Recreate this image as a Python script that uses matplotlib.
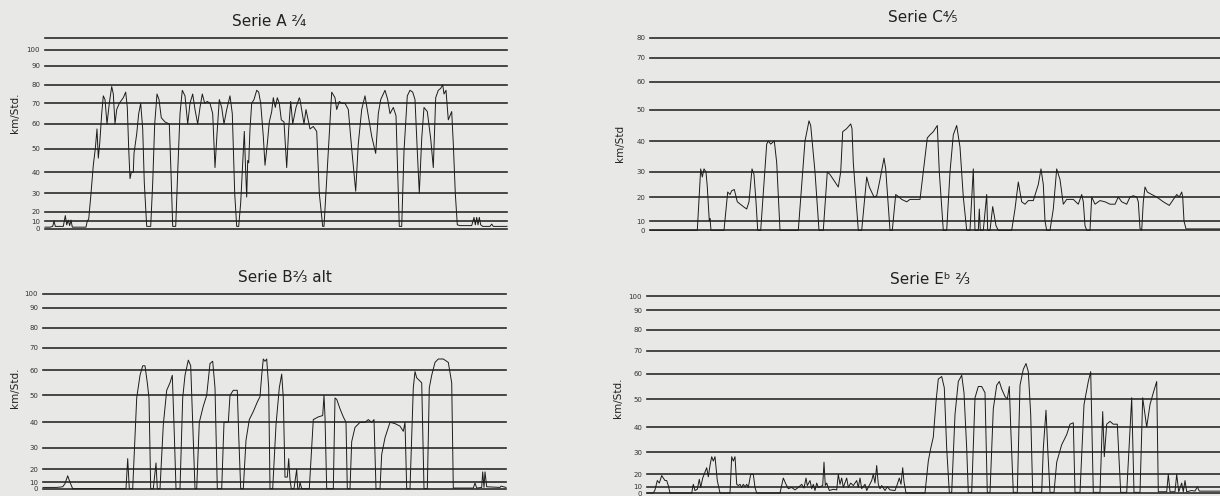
"""Geschwindigkeitsdiagramme (km/Std.) fuer vier Triebwagen-Serien."""
import matplotlib

matplotlib.use("Agg")
import matplotlib.pyplot as plt
import numpy as np

plt.rcParams["font.family"] = ["DejaVu Sans", "Noto Sans"]

# ---- Daten (Strecke in willkuerlichen Einheiten, Geschwindigkeit in km/h) ----
a_x = [0, 5, 7.7, 9, 10.3, 18.3, 20.3, 21.7, 23.3, 24.7, 26, 27.3, 41, 42.3, 43.7,
       45.7, 48.3, 50.3, 52, 53.3, 54.7, 56.7, 58.3, 60, 62, 64.3, 66.7, 68.3, 70,
       71.7, 74.3, 78.3, 80.7, 82.3, 83.7, 85, 86.3, 88.3, 89, 91.7, 93.7, 95.7,
       97.7, 99.3, 101.7, 105.7, 107.7, 109.7, 112, 114, 116.3, 120, 124.3, 126,
       127.7, 130.7, 132.7, 135, 137.3, 140, 142.7, 145, 147.7, 150, 152.7, 155,
       157.3, 159.7, 162.3, 165, 167.7, 170, 172, 174.3, 176.7, 179, 181.7, 185,
       187.3, 189.7, 191.7, 193.7, 195.7, 199.3, 200.7, 201.7, 202.7, 203.7, 205,
       206.7, 209, 211.7, 213.7, 215.7, 218.3, 220, 222.3, 224.3, 226.7, 228.3,
       230.3, 232.3, 234.3, 236.3, 239, 241.7, 243.7, 245.7, 247.7, 251, 254.3,
       255, 259, 261, 265, 268.3, 271.7, 274.3, 277.7, 279, 286.7, 290, 291.7,
       294.3, 296.7, 300, 303.3, 306.7, 310.7, 313.3, 316.7, 320, 323.3, 326.7,
       330.7, 333.3, 335.7, 340, 342.7, 345, 348.3, 351, 352.3, 354.3, 356.7, 359,
       362.3, 365, 367.7, 370, 372.3, 374.3, 376.7, 379, 382.3, 385.7, 388.3,
       390.7, 393.3, 395.7, 397.7, 399, 401, 403.3, 405, 406.7, 408.3, 410.3,
       412.3, 415, 426.7, 429, 430.3, 431.7, 433, 434.3, 435.7, 437.7, 445, 446.7,
       448.3, 462]
a_v = [2, 2, 3, 10, 3, 3, 16, 5, 11, 4, 11, 2, 2, 10, 12,
       28, 43, 50, 58, 46, 52, 65, 74, 72, 60, 70, 79, 75, 60,
       67, 70, 73, 76, 68, 50, 37, 40, 40, 48, 56, 65, 70,
       58, 35, 3, 3, 35, 60, 75, 72, 63, 61, 60, 40,
       3, 3, 40, 65, 77, 74, 60, 70, 75, 67, 60, 68,
       75, 70, 71, 70, 65, 42, 56, 72, 68, 60, 67, 74,
       65, 30, 3, 3, 25, 57, 40, 28, 45, 44, 58,
       70, 72, 77, 76, 70, 55, 43, 52, 61, 66, 73,
       68, 73, 70, 62, 61, 42, 58, 71, 60, 68, 73,
       72, 60, 67, 58, 59, 57, 30, 3, 3, 76, 73, 67,
       71, 70, 70, 67, 50, 31, 52, 67, 74, 64, 55,
       48, 65, 72, 77, 72, 65, 68, 64, 45, 3, 3, 49,
       74, 77, 76, 72, 49, 30, 54, 68, 66, 54, 42,
       73, 77, 78, 80, 75, 77, 62, 64, 66, 52, 30,
       5, 4, 4, 14, 5, 14, 5, 14, 5, 3, 3, 6,
       3, 3]

b_x = [0, 13.7, 19.7, 22, 24.7, 27, 29.7, 83, 84.7, 86.3, 89.7, 93.7, 97, 99.7, 102,
       104.3, 106, 107.7, 110.3, 113, 114.3, 117, 120.3, 123.7, 127, 129.3, 131,
       133, 137, 139.7, 142, 145.3, 147.7, 149.7, 152, 153.7, 156.3, 160.3, 163.7,
       167, 169.7, 172, 174.3, 178.7, 181, 185.3, 187, 190.3, 194.3, 195.7, 197.7,
       200.3, 203, 206.3, 210.3, 214.3, 217, 218.7, 220.3, 222, 223.7, 225.7, 227,
       229.7, 233, 236.3, 238.7, 240.3, 242, 244.3, 245.7, 247, 248.3, 251, 253.7,
       254.7, 256, 257, 258.7, 266.3, 268.7, 270.3, 275.3, 279.7, 281, 282, 283.7,
       290.3, 292, 293.7, 297, 300.3, 303, 304.3, 307, 308.7, 312, 317, 322, 325.3,
       328.7, 331, 333, 337, 338.7, 342, 347, 352, 357, 360.3, 362, 363.7, 367,
       370.3, 372, 373.7, 378.7, 381, 384.3, 386.3, 388.7, 392, 395.3, 400.3,
       405.3, 408.7, 410.3, 430.3, 432, 433.7, 438.7, 439.7, 441, 442, 443.7, 457,
       458, 463]
b_v = [2, 2, 3, 8, 15, 10, 0, 0, 25, 0, 0, 49, 58, 62, 62,
       55, 49, 0, 0, 23, 0, 0, 39, 52, 55, 58, 39,
       0, 0, 49, 58, 64.5, 62, 40, 0, 0, 40, 46, 50,
       63, 64, 53, 0, 0, 40, 40, 50, 52, 52, 35, 0,
       0, 33, 41, 44, 47.5, 49.5, 58, 65, 64, 65, 53, 0,
       0, 39, 53, 58.5, 49, 14, 14, 25, 12, 0, 0, 20,
       0, 0, 10, 0, 0, 30, 41, 42, 42.5, 50, 42, 0,
       0, 49, 48.5, 45, 42, 40, 0, 0, 32.5, 38, 40, 40, 41,
       40, 41, 0, 0, 27, 34, 40, 39.5, 38.5, 36.5, 40, 0, 0,
       53, 59.5, 57, 55, 0, 0, 53, 58, 63.5, 65, 65,
       63.5, 55, 1, 1, 9, 1, 2, 18, 2, 18, 3, 2,
       4, 2]

c_x = [0, 47.3, 50.7, 52.3, 54, 56, 57.3, 59.3, 60, 61, 74, 77.7, 80, 81.7, 84.3,
       87.3, 93.3, 96.7, 99, 102, 104, 106, 107.7, 110.7, 116.7, 118.3, 120.7,
       124.3, 126.7, 130, 148.3, 152.7, 155, 159, 160.7, 165, 169, 173.3, 177.3,
       180, 185, 188.3, 190.7, 192.7, 196.7, 200.7, 202, 203.3, 208.3, 211.7,
       216.7, 219.3, 224, 226.7, 230, 234, 235.7, 240, 242.3, 245.7, 249, 251.7,
       256.7, 260, 270, 273.3, 277.3, 280, 283.3, 287.3, 289.3, 293.3, 296.7, 300,
       303.3, 306.7, 310, 313.3, 316.7, 320, 323.3, 325, 328.3, 329.3, 330.3, 333.3,
       336.7, 337.7, 340, 342.7, 346, 348.3, 361.7, 365, 368.3, 371.7, 375, 378.3,
       383.3, 388.3, 391, 393.3, 395, 396.7, 400, 403.3, 406.7, 410, 413.3, 416.7,
       423.3, 428.3, 431.7, 433.3, 435, 436.7, 440, 441.7, 445, 450, 455, 460, 465,
       468.3, 471.7, 476.7, 480, 483.3, 486.7, 488.3, 490, 491.7, 493.3, 495,
       497.3, 501.7, 506.7, 513.3, 519.3, 523.3, 526.7, 529.3, 531.7, 532.7, 534,
       536, 540, 570]
c_v = [0, 0, 31, 28, 31, 30, 24, 10, 11, 0, 0, 22, 21, 22.5, 23,
       18, 16, 15, 18, 31, 29, 18, 0, 0, 39, 40, 39,
       40, 33, 0, 0, 30, 40, 46.5, 45, 30, 0, 0, 30,
       29, 26, 24, 30, 43, 44, 45.5, 44, 33, 0, 0,
       28, 24, 20, 20.5, 27, 34.5, 31, 0, 0, 21, 20, 19,
       18, 19, 19, 30, 41, 42, 43, 45, 30, 0, 0, 30,
       42, 45, 38, 20, 0, 0, 31, 0, 0, 15, 0, 0,
       21, 0, 0, 16, 5, 0, 0, 15, 26, 18, 17, 18.5,
       18.5, 25, 31, 25, 10, 0, 0, 15, 31, 27, 17, 19,
       19, 17, 21, 18, 5, 0, 0, 20, 17, 18.5, 18, 17, 17,
       20, 18, 17, 20, 20.5, 20, 18, 2, 0, 18, 24,
       22, 21, 20, 18, 16.5, 19, 21, 20, 22, 20, 10,
       1.5, 1.5, 1.5]

e_x = [0, 6.3, 8, 10.3, 12.3, 14.7, 16.3, 18, 19.7, 21.3, 23, 44.7, 46.3, 48, 50.3,
       52.3, 53.7, 55.7, 58, 59.7, 61.3, 63, 64.7, 66.3, 68, 70.3, 73, 83, 84.7,
       86.3, 88, 89.7, 91.3, 93, 94.7, 96.3, 98, 99.7, 101.3, 103.7, 106.3, 108,
       109.7, 133, 136.3, 139, 141.3, 144.7, 148, 151.3, 154.7, 157, 159, 160.3,
       163, 164.7, 166.3, 168, 169.7, 171.3, 175.7, 177, 178.3, 179.7, 182.3,
       186.3, 189.7, 191.3, 193, 194.7, 196.3, 199.7, 201.3, 203.7, 206.3, 209.7,
       211.3, 213, 214.7, 218, 219.7, 224.7, 226.3, 228, 229.7, 231.3, 233, 234.7,
       238, 240.3, 243, 248, 250.3, 252.3, 254, 255.7, 257, 259, 278, 281.3,
       283.7, 286.3, 289, 291.3, 294.7, 297.3, 299.7, 302.3, 304.7, 308, 311.3,
       314.7, 317, 319.7, 321.3, 324.7, 328, 331.3, 334.7, 338, 340.3, 343, 346.3,
       349.7, 352.3, 354.7, 358, 360.3, 362.3, 364, 366.3, 370.3, 373, 376.3, 379,
       381.3, 383.7, 385.7, 394.7, 396.3, 399, 400.7, 403, 407, 409.7, 414.7,
       419.7, 423, 426.3, 428, 433, 437, 441.3, 443.7, 446.3, 453, 455.7, 457.3,
       459.7, 463, 466.3, 470.3, 473.7, 479.7, 484.7, 487, 493, 495.7, 498, 499.7,
       503, 506.3, 509.7, 511.3, 519.7, 521.3, 523, 528, 529.7, 531.7, 534.7,
       536.3, 538, 539.7, 544.7, 548, 550.3, 552.3, 573]
e_v = [0, 0, 5, 15, 13, 19, 17, 15, 15, 11, 0, 0, 12, 4, 6,
       16, 9, 17, 21, 23, 18, 24, 28, 26, 28, 15, 0, 0, 28,
       26, 28, 12, 11, 12, 9, 12, 10, 12, 9, 20, 20, 9,
       0, 0, 17, 12, 7, 9, 5, 9, 12, 8, 17, 11,
       15, 7, 12, 4, 13, 9, 11, 25.5, 11, 13, 4,
       6, 5, 20, 12, 17, 9, 17, 9, 13, 11, 15,
       9, 17, 7, 12, 4, 15, 20, 13, 24, 12, 7, 11,
       4, 10, 5, 4, 12, 17, 12, 23, 14, 0, 0, 26,
       31.5, 36, 49, 58, 59, 54.5, 31.5, 1, 1, 44.5, 57,
       59.5, 52.5, 31.5, 1, 1, 50.5, 55, 55, 52.5, 1, 1, 46.5,
       55.5, 57, 54, 51, 50, 55, 37, 1, 1, 55.5, 62, 64.5,
       61, 44.5, 1, 1, 31.5, 46, 31.5, 1, 1, 25.5, 33,
       37, 41, 41.5, 1, 1, 48, 57, 61, 1, 1, 45.5, 28,
       41, 42, 41, 41, 1, 1, 50.5, 1, 1, 50.5, 44.5, 40,
       48, 52.5, 57, 2, 2, 20, 2, 2, 20, 2, 13,
       2, 15, 2, 4, 3, 10, 3, 3]

titles = ["Serie A \u00b2\u2044\u2084", "Serie C\u2074\u2044\u2085",
          "Serie B\u00b2\u2044\u2083 alt", "Serie E\u1d47 \u00b2\u2044\u2083"]
ylabels = ["km/Std.", "km/Std", "km/Std.", "km/Std."]

PAPER = "#e8e8e6"
INK = "#1c1c1c"
W, H = 1220, 496

fig = plt.figure(figsize=(W / 100, H / 100), dpi=100, facecolor=PAPER)


def panel(x, v, title, ylabel, left, right, levels, py, labelled, xmax,
          title_xy, ylabel_xy):
    """Eine Tafel mit ungleichmaessig geteilter Geschwindigkeitsskala."""
    py = np.asarray(py, dtype=float)
    ax = fig.add_axes([left / W, 1 - py[0] / H, (right - left) / W,
                       (py[0] - py[-1]) / H])
    ax.set_facecolor("none")
    h = py[0] - py
    ax.set_yscale("function",
                  functions=(lambda s: np.interp(s, levels, h),
                             lambda t: np.interp(t, h, levels)))
    ax.set_ylim(levels[0], levels[-1])
    ax.set_xlim(0, xmax)
    for lv in levels:
        ax.axhline(lv, color="#2b2b2b", lw=1.2, zorder=1, clip_on=False)
    ax.plot(x, v, color=INK, lw=0.7, zorder=3, clip_on=False)
    ax.set_yticks(labelled, [str(t) for t in labelled])
    ax.set_xticks([])
    ax.tick_params(axis="y", length=0, labelsize=5, pad=3.5,
                   labelcolor="#333333")
    for s in ax.spines.values():
        s.set_visible(False)
    fig.text(title_xy[0] / W, 1 - title_xy[1] / H, title, ha="center",
             va="center", fontsize=11, color="#222222")
    fig.text(ylabel_xy[0] / W, 1 - ylabel_xy[1] / H, ylabel, ha="center",
             va="center", rotation=90, fontsize=7.5, color="#222222")
    return ax


tens = list(range(0, 101, 10))

panel(a_x, a_v, titles[0], ylabels[0], 45, 507, tens + [110],
      [228.7, 221, 212, 193.3, 172.3, 148.7, 124, 103.3, 84.7, 66, 50, 37.7],
      tens, 462, (269, 21), (15, 113))
panel(c_x, c_v, titles[1], ylabels[1], 650, 1220, list(range(0, 81, 10)),
      [230.3, 221, 197, 172, 141, 110, 81.7, 57.7, 37.7],
      list(range(0, 81, 10)), 570, (923, 18), (620, 143))
panel(b_x, b_v, titles[2], ylabels[2], 43, 506, tens,
      [488.7, 482.3, 469.3, 448, 422.3, 395.3, 370.3, 347.7, 328, 308, 294],
      tens, 463, (285, 277), (15, 388))
panel(e_x, e_v, titles[3], ylabels[3], 647, 1220, tens,
      [493, 486.8, 474.3, 452.3, 427, 399, 374, 350.7, 330, 310.3, 296.3],
      tens, 573, (930, 280), (618, 398))

fig.savefig("out.png", dpi=100, facecolor=PAPER)
